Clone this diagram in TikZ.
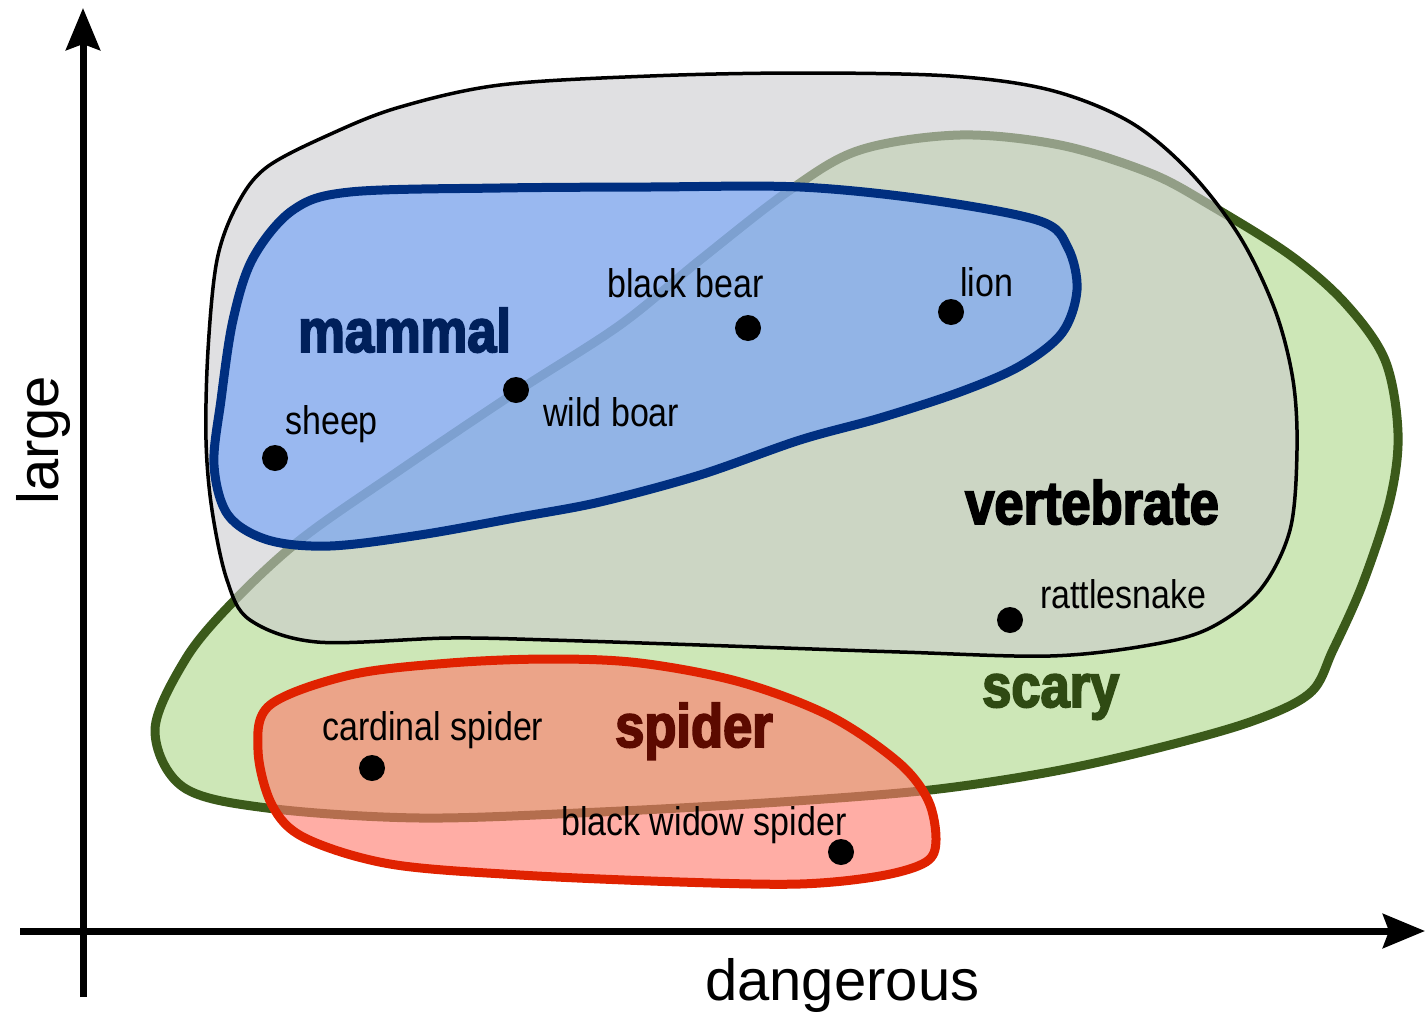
\documentclass[tikz,border=0pt]{standalone}
\usepackage{fontspec}
\usetikzlibrary{arrows.meta}
\newfontfamily\labfont[FakeStretch=0.85]{Liberation Sans}
\newfontfamily\axfont[FakeStretch=1.0]{Liberation Sans}
\newfontfamily\catfont[FakeStretch=0.86,FakeBold=3]{Liberation Sans}
\definecolor{grnfill}{RGB}{205,231,183}
\definecolor{grnline}{RGB}{59,90,26}
\definecolor{grayfill}{RGB}{204,204,206}
\definecolor{bluefill}{RGB}{114,162,250}
\definecolor{blueline}{RGB}{0,47,128}
\definecolor{redfill}{RGB}{255,123,110}
\definecolor{redline}{RGB}{224,34,0}
\definecolor{mamtext}{RGB}{0,32,91}
\definecolor{scarytext}{RGB}{47,74,19}
\definecolor{spidertext}{RGB}{92,10,0}
\tikzset{
  lab/.style={anchor=base west, inner sep=0pt, font=\labfont\fontsize{40}{40}\selectfont},
  cat/.style={anchor=base west, inner sep=0pt, font=\catfont\bfseries\fontsize{61}{61}\selectfont},
  axlab/.style={anchor=base west, inner sep=0pt, font=\axfont\fontsize{58}{58}\selectfont},
  dot/.style={circle, fill=black, inner sep=0pt, minimum size=26pt},
  axis/.style={line width=7pt, -{Stealth[length=42pt,width=34pt,inset=6pt]}}
}
\begin{document}
\begin{tikzpicture}[x=1pt,y=-1pt]
\useasboundingbox (0,0) rectangle (1425,1015);
% scary (green)
\draw[fill=grnfill, draw=grnline, line width=9pt, line join=round]
  plot[smooth cycle, tension=0.55] coordinates {
  (155,730) (183,787) (267,808) (420,818) (600,812) (780,802) (930,790)
  (1050,772) (1150,750) (1250,722) (1310,693) (1333,650) (1363,583)
  (1390,500) (1398,433) (1385,360) (1345,303) (1290,255) (1210,205)
  (1150,173) (1060,145) (960,135) (860,150) (790,190) (700,260) (620,325)
  (516,392) (400,470) (300,540) (230,605) (185,660)};
% vertebrate (gray)
\draw[fill=grayfill, fill opacity=0.6, draw=black, line width=3.5pt]
  plot[smooth cycle, tension=0.55] coordinates {
  (267,167) (333,133) (400,107) (500,85) (650,76) (800,73) (950,76)
  (1050,90) (1130,122) (1190,172) (1240,237) (1275,310) (1293,380)
  (1297,450) (1290,530) (1260,590) (1210,628) (1150,645) (1050,656)
  (900,652) (700,645) (550,640) (450,638) (317,642) (250,620) (227,580)
  (212,510) (206,440) (208,350) (217,260) (237,205)};
% mammal (blue)
\draw[fill=bluefill, fill opacity=0.64, draw=blueline, line width=9pt]
  plot[smooth cycle, tension=0.55] coordinates {
  (350,192) (500,188) (650,187) (800,187) (930,200) (1040,221)
  (1068,248) (1077,290) (1062,333) (1020,366) (960,392) (880,418)
  (800,440) (700,475) (600,502) (520,517) (420,535) (330,546)
  (268,540) (228,515) (214,465) (221,400) (233,320) (253,258) (293,210)};
% spider (red)
\draw[fill=redfill, fill opacity=0.62, draw=redline, line width=9pt]
  plot[smooth cycle, tension=0.55] coordinates {
  (350,675) (450,663) (550,659) (640,663) (740,682) (830,716)
  (898,762) (928,800) (936,840) (926,862) (880,876) (800,884)
  (680,882) (520,875) (390,864) (305,838) (272,805) (258,750) (270,705)};
% axes
\coordinate (xs) at (20,931);
\coordinate (xe) at (1425,931);
\coordinate (ys) at (83,997);
\coordinate (ye) at (83,8);
\draw[axis] (xs) -- (xe);
\draw[axis] (ys) -- (ye);
\node[axlab] (dangerous) at (705,1000) {dangerous};
\node[axlab, rotate=90] (large) at (58,505) {large};
% dots
\node[dot] (sheep) at (275,458) {};
\node[dot] (boar) at (516,390) {};
\node[dot] (bear) at (748,328) {};
\node[dot] (lion) at (951,312) {};
\node[dot] (snake) at (1010,620) {};
\node[dot] (cardinal) at (372,768) {};
\node[dot] (widow) at (841,852) {};
% labels
\node[lab] (tsheep) at (285,434) {sheep};
\node[lab] (tbear) at (607,297) {black bear};
\node[lab] (tlion) at (960,296) {lion};
\node[lab] (tboar) at (543,426) {wild boar};
\node[lab] (tsnake) at (1040,608) {rattlesnake};
\node[lab] (tcard) at (322,740) {cardinal spider};
\node[lab] (twidow) at (561,835) {black widow spider};
% category labels
\node[cat, text=mamtext] (mammal) at (298,352) {mammal};
\node[cat, text=black] (vertebrate) at (965,524) {vertebrate};
\node[cat, text=scarytext] (scary) at (982,707) {scary};
\node[cat, text=spidertext] (spider) at (615,747) {spider};
\end{tikzpicture}
\end{document}
